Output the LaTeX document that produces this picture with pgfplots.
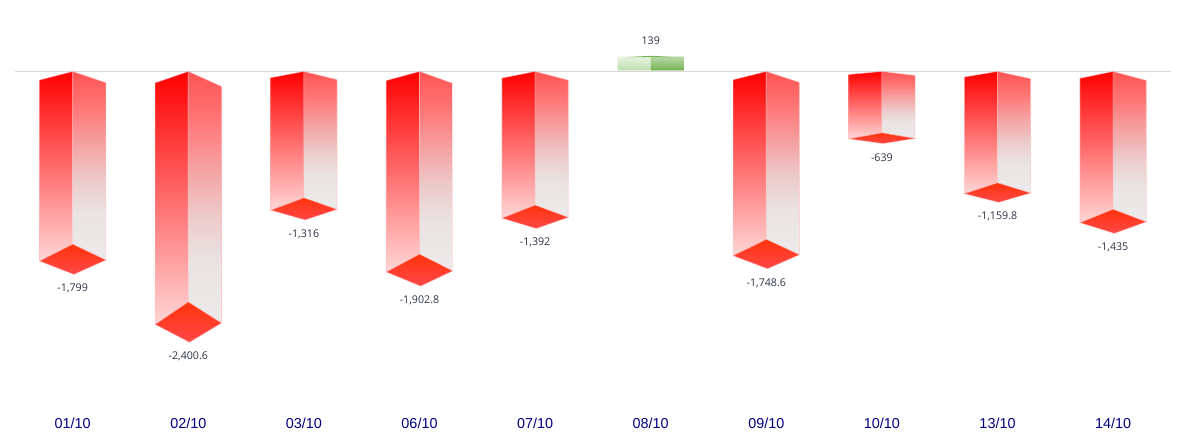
\documentclass[border=0pt]{standalone}
\usepackage{fontspec}
\setmainfont{Liberation Sans}
\newfontfamily\valuefont{Open Sans}
\usepackage{pgfplots}
\usepackage{pgfplotstable}
\pgfplotsset{compat=1.18}
\definecolor{axisline}{RGB}{217,217,217}
\definecolor{ticktext}{RGB}{0,0,128}
\definecolor{labeltext}{RGB}{45,50,70}
\definecolor{edgepink}{RGB}{255,190,190}
\pgfdeclareverticalshading{leftface}{100bp}{rgb(0bp)=(1,.84,.84); rgb(25bp)=(1,.84,.84); rgb(75bp)=(1,0,0); rgb(100bp)=(1,0,0)}
\pgfdeclareverticalshading{rightface}{100bp}{rgb(0bp)=(.92,.92,.92); rgb(25bp)=(.92,.92,.92); rgb(37.5bp)=(.92,.89,.89); rgb(46.5bp)=(.93,.79,.79); rgb(56bp)=(.96,.63,.63); rgb(65bp)=(1,.47,.47); rgb(75bp)=(1,.33,.33); rgb(100bp)=(1,.33,.33)}
\pgfdeclareverticalshading{bottomface}{100bp}{rgb(0bp)=(1,.28,.28); rgb(25bp)=(1,.28,.28); rgb(75bp)=(1,.2,.05); rgb(100bp)=(1,.2,.05)}
\pgfdeclareverticalshading{gleft}{100bp}{rgb(0bp)=(.74,.87,.68); rgb(25bp)=(.74,.87,.68); rgb(75bp)=(.90,.95,.87); rgb(100bp)=(.90,.95,.87)}
\pgfdeclareverticalshading{gright}{100bp}{rgb(0bp)=(.45,.69,.32); rgb(25bp)=(.45,.69,.32); rgb(75bp)=(.72,.85,.65); rgb(100bp)=(.72,.85,.65)}
\newlength{\ux}\setlength{\ux}{0.75pt}
\pgfplotstableread{
x y label
0 -1799 -1,799
1 -2400.6 -2,400.6
2 -1316 -1,316
3 -1902.8 -1,902.8
4 -1392 -1,392
6 -1748.6 -1,748.6
7 -639 -639
8 -1159.8 -1,159.8
9 -1435 -1,435
}\negdata
\pgfplotstableread{
x y label
5 139 139
}\posdata
\newcommand{\negbar}[2]{%
  \pgfmathsetmacro\cc{#1}%
  \pgfmathsetmacro\xl{#1-0.287}%
  \pgfmathsetmacro\xr{#1+0.287}%
  \pgfmathsetmacro\xf{#1+0.01}%
  \pgfmathsetmacro\yla{0.042*#2}%
  \pgfmathsetmacro\yra{0.055*#2}%
  \pgfmathsetmacro\yb{0.851*#2}%
  \pgfmathsetmacro\ylb{0.934*#2}%
  \pgfmathsetmacro\yrb{0.929*#2}%
  \edef\temp{%
    \noexpand\addplot[shade, shading=leftface, draw=edgepink, draw opacity=.6, line width=0.5pt] coordinates {(\cc,0) (\xl,\yla) (\xl,\ylb) (\cc,\yb)} -- cycle;
    \noexpand\addplot[shade, shading=rightface, draw=edgepink, draw opacity=.6, line width=0.5pt] coordinates {(\cc,0) (\xr,\yra) (\xr,\yrb) (\cc,\yb)} -- cycle;
    \noexpand\addplot[shade, shading=bottomface, draw=edgepink, draw opacity=.6, line width=0.5pt] coordinates {(\cc,\yb) (\xl,\ylb) (\xf,#2) (\xr,\yrb)} -- cycle;
  }\temp}
\begin{document}
\begin{tikzpicture}
\path[use as bounding box] (-14.9\ux,-45\ux) rectangle (1171.1\ux,395\ux);
\begin{axis}[
  at={(0,0)}, anchor=south west,
  scale only axis,
  width=1156\ux, height=365\ux,
  xmin=-0.5, xmax=9.5,
  ymin=-2867.9, ymax=367.9,
  clip=false,
  axis line style={draw=none},
  major tick length=0pt,
  ytick=\empty,
  xtick={0,1,2,3,4,5,6,7,8,9},
  xticklabels={01/10,02/10,03/10,06/10,07/10,08/10,09/10,10/10,13/10,14/10},
  x tick label style={font=\fontsize{10.8}{12}\selectfont, text=ticktext, anchor=center, yshift=-28\ux},
  every axis plot/.append style={forget plot},
]
\addplot[draw=axisline, line width=0.75pt] coordinates {(-0.5,0) (9.5,0)};
\negbar{0}{-1799}
\negbar{1}{-2400.6}
\negbar{2}{-1316}
\negbar{3}{-1902.8}
\negbar{4}{-1392}
\negbar{6}{-1748.6}
\negbar{7}{-639}
\negbar{8}{-1159.8}
\negbar{9}{-1435}
\addplot[shade, shading=gleft, draw=white, draw opacity=.5, line width=0.5pt] coordinates {(4.713,8) (5,8) (5,130) (4.713,130)} -- cycle;
\addplot[shade, shading=gright, draw=white, draw opacity=.5, line width=0.5pt] coordinates {(5,8) (5.287,8) (5.287,130) (5,130)} -- cycle;
\addplot[fill={rgb,1:red,.47;green,.69;blue,.35}, draw=none] coordinates {(4.8,128) (5,139) (5.2,128)} -- cycle;
\addplot[draw=none, mark=none, point meta=explicit symbolic,
  nodes near coords,
  nodes near coords style={font=\valuefont\fontsize{8}{10}\selectfont, text=labeltext, anchor=center, yshift=-14.2\ux, inner sep=0pt}]
  table[x=x,y=y,meta=label] {\negdata};
\addplot[draw=none, mark=none, point meta=explicit symbolic,
  nodes near coords,
  nodes near coords style={font=\valuefont\fontsize{8}{10}\selectfont, text=labeltext, anchor=center, yshift=14.8\ux, inner sep=0pt}]
  table[x=x,y=y,meta=label] {\posdata};
\end{axis}
\end{tikzpicture}
\end{document}
